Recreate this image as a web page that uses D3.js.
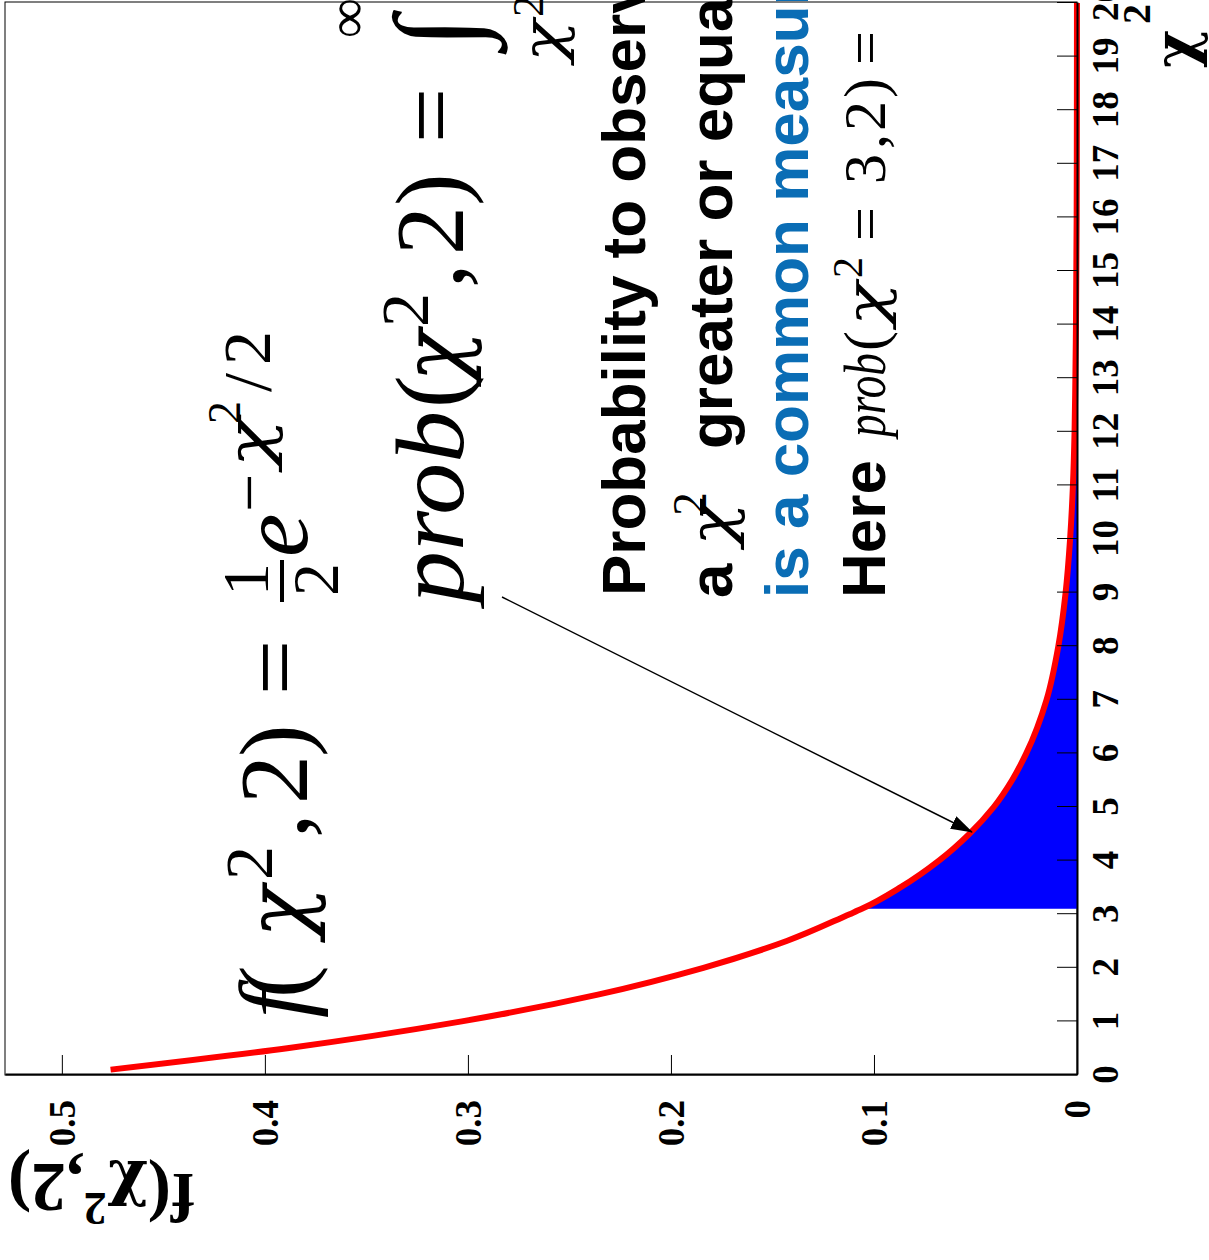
<!DOCTYPE html>
<html>
<head>
<meta charset="utf-8">
<script src="https://cdn.jsdelivr.net/npm/d3@7"></script>
<style>
body{margin:0;background:#fff}
</style>
</head>
<body>
<div id="chart"></div>
<script>
// chi2 points along the red curve and the pdf values
var chiVals = [0.1,0.5,1,1.5,2,2.5,3,3.1,3.5,4,4.5,5,5.5,6,7,8,9,10,11,12,13,14,16,18,20];
var fVals   = [0.476,0.389,0.303,0.236,0.184,0.143,0.112,0.106,0.087,0.068,0.053,0.041,0.032,0.025,0.015,0.0092,0.0056,0.0034,0.002,0.0012,0.0008,0.0005,0.00017,0.00006,0.00002];
var fillFrom = 3.1;   // blue area starts here

var chiTicks = [0,1,2,3,4,5,6,7,8,9,10,11,12,13,14,15,16,17,18,19,20];
var fTicks   = [0,0.1,0.2,0.3,0.4,0.5];
var chiDomain = [0,20],
    fDomain   = [0,0.528];

var textLines = ["Probability to observe", "greater or equal", "is a common measure", "Here"];

var W = 1209, H = 1260;

var svg = d3.select("#chart").append("svg")
    .attr("width", W)
    .attr("height", H);

// the whole canvas is turned by 90 degrees, so draw it the usual way then rotate
var g = svg.append("g")
    .attr("transform", "translate(0," + H + ") rotate(-90)");

var x = d3.scaleLinear().domain(chiDomain).range([185, 1257]);
var y = d3.scaleLinear().domain(fDomain).range([1077, 5]);

var pts = chiVals.map(function(c,i){ return {c:c, f:fVals[i]}; });

// frame
g.append("rect")
    .attr("x", 185).attr("y", 5)
    .attr("width", 1073).attr("height", 1072)
    .attr("fill", "none")
    .attr("stroke", "#000")
    .attr("stroke-width", 1);

// blue area
var area = d3.area()
    .x(function(d){ return x(d.c); })
    .y0(y(0))
    .y1(function(d){ return y(d.f); })
    .curve(d3.curveMonotoneX);

g.append("path")
    .datum(pts.filter(function(d){ return d.c >= fillFrom; }))
    .attr("d", area)
    .attr("fill", "#0000ff");

// red curve
var line = d3.line()
    .x(function(d){ return x(d.c); })
    .y(function(d){ return y(d.f); })
    .curve(d3.curveMonotoneX);

g.append("path")
    .datum(pts)
    .attr("d", line)
    .attr("fill", "none")
    .attr("stroke", "#ff0000")
    .attr("stroke-width", 6);

// axes
var xAxis = d3.axisBottom(x)
    .tickValues(chiTicks)
    .tickSizeInner(-20)
    .tickSizeOuter(0)
    .tickFormat(d3.format("d"));

var gx = g.append("g")
    .attr("transform", "translate(0,1077)")
    .call(xAxis);

var yAxis = d3.axisLeft(y)
    .tickValues(fTicks)
    .tickSizeInner(-20)
    .tickSizeOuter(0)
    .tickFormat(function(d){ return d === 0 ? "0" : d3.format(".1f")(d); });

var gy = g.append("g")
    .attr("transform", "translate(185,0)")
    .call(yAxis);

[gx, gy].forEach(function(a){
    a.select(".domain").attr("stroke", "#000").attr("stroke-width", 2);
    a.selectAll(".tick line").attr("stroke", "#000").attr("stroke-width", 1);
    a.selectAll("text")
        .attr("font-family", "Liberation Serif")
        .attr("font-weight", "bold")
        .attr("font-size", 37)
        .attr("fill", "#000");
});
gx.selectAll("text").attr("y", 41).attr("dy", "0");
gy.selectAll("text").attr("x", -25).attr("dy", "0.33em");

// axis titles
var serif = "Liberation Serif",
    greek = "DejaVu Serif";
var yt = g.append("text")
    .attr("transform", "translate(86,8) rotate(-90)")
    .attr("text-anchor", "end")
    .attr("font-family", serif)
    .attr("font-weight", "bold")
    .attr("font-size", 70);
yt.append("tspan").text("f(");
yt.append("tspan").attr("font-family", greek).attr("font-size", 62).text("χ");
yt.append("tspan").attr("dy", "-0.42em").attr("font-size", 46).text("2");
yt.append("tspan").attr("dy", "0.42em").text(",2)");

g.append("text").attr("x", 1192).attr("y", 1195)
    .attr("font-family", greek).attr("font-weight", "bold").attr("font-size", 58)
    .text("χ");
g.append("text").attr("x", 1236).attr("y", 1150)
    .attr("font-family", serif).attr("font-weight", "bold").attr("font-size", 40)
    .text("2");

// helper for placing text pieces
var ann = g.append("g");
function put(str, px, py, size, opt){
    opt = opt || {};
    var fam = opt.sans ? "Liberation Sans" : (opt.greek ? greek : serif);
    var t = ann.append("text")
        .attr("x", px).attr("y", py)
        .attr("font-family", fam)
        .attr("font-style", opt.it ? "italic" : "normal")
        .attr("font-weight", opt.bold ? "bold" : "normal")
        .attr("font-size", size)
        .attr("fill", opt.color || "#000")
        .text(str);
    if (opt.len) t.attr("textLength", opt.len).attr("lengthAdjust", "spacingAndGlyphs");
    return t;
}

// f(chi2,2) = 1/2 e^{-chi2/2}
put("f", 242, 307, 98, {it:1});
put("(", 262, 307, 98);
put("χ", 322, 307, 86, {it:1, greek:1, len:52});
put("2", 380, 272, 68);
put(",", 422, 307, 98);
put("2", 456, 307, 98);
put(")", 503, 307, 98);
put("=", 565, 307, 98);
put("1", 664, 268, 66);
ann.append("rect").attr("x", 658).attr("y", 280).attr("width", 42).attr("height", 4).attr("fill", "#000");
put("2", 664, 338, 66);
put("e", 703, 307, 98, {it:1});
put("−", 748, 272, 68);
put("χ", 792, 270, 60, {it:1, greek:1, len:50});
put("2", 836, 240, 46);
put("/", 868, 270, 68);
put("2", 895, 270, 68);

// prob(chi2,2) = integral
put("prob", 657, 463, 98, {it:1, len:192});
put("(", 852, 463, 98);
put("χ", 878, 463, 86, {it:1, greek:1, len:52});
put("2", 933, 428, 68);
put(",", 972, 463, 98);
put("2", 1005, 463, 98);
put(")", 1054, 463, 98);
put("=", 1117, 463, 98);
put("∫", 1212, 476, 118, {it:1});
put("∞", 1222, 366, 56);
put("χ", 1198, 562, 56, {it:1, greek:1, len:42});
put("2", 1243, 543, 44);

// explanation text
put(textLines[0], 664, 645, 62, {sans:1, bold:1});
put("a", 662, 732, 62, {sans:1, bold:1});
put("χ", 714, 732, 60, {it:1, greek:1, len:44});
put("2", 744, 706, 48);
put(textLines[1], 811, 732, 62, {sans:1, bold:1});
put(textLines[2], 662, 808, 62, {sans:1, bold:1, color:"#0a6db5"});
put(textLines[3], 662, 885, 62, {sans:1, bold:1});
put("prob", 823, 885, 60, {it:1, len:84});
put("(", 909, 885, 60);
put("χ", 934, 885, 54, {it:1, greek:1, len:44});
put("2", 982, 862, 42);
put("=", 1019, 885, 60);
put("3", 1076, 885, 60);
put(",", 1111, 885, 60);
put("2", 1129, 885, 60);
put(")", 1162, 885, 60);
put("=", 1195, 885, 60);

// arrow pointing at the curve
svg.append("defs").append("marker")
    .attr("id", "ah")
    .attr("markerUnits", "userSpaceOnUse")
    .attr("markerWidth", 22).attr("markerHeight", 16)
    .attr("refX", 21).attr("refY", 8)
    .attr("orient", "auto")
  .append("path")
    .attr("d", "M0,1 L22,8 L0,15 Z")
    .attr("fill", "#000");

ann.append("line")
    .attr("x1", 663).attr("y1", 502)
    .attr("x2", 428).attr("y2", 972)
    .attr("stroke", "#000")
    .attr("stroke-width", 1.5)
    .attr("marker-end", "url(#ah)");
</script>
</body>
</html>
